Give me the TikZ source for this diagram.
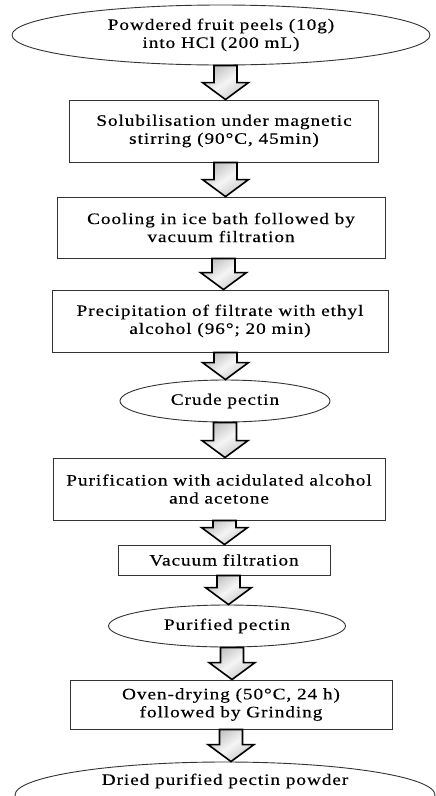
\documentclass[tikz,border=0pt]{standalone}
\usepackage{fontspec}
\setmainfont{Liberation Serif}[FakeStretch=1.2,LetterSpace=6,FakeBold=0.4]
\usetikzlibrary{shapes.geometric,calc}
\newcommand{\flowarrow}[2]{%
  \path[blockarrow] let \p1=(#1.south), \p2=(#2.north), \n1={0.5*\x1+0.5*\x2+3} in
    ({\n1-11.5pt},{\y1}) -- ({\n1+11.5pt},{\y1}) -- ({\n1+11.5pt},{\y2+17pt})
    -- ({\n1+23pt},{\y2+17pt}) -- ({\n1},{\y2}) -- ({\n1-23pt},{\y2+17pt})
    -- ({\n1-11.5pt},{\y2+17pt}) -- cycle;}
\begin{document}
\begin{tikzpicture}[x=1pt,y=-1pt,
    every node/.style={font=\fontsize{16}{18}\selectfont,align=center,inner sep=0pt},
    stepbox/.style={draw=black!80,line width=0.9pt,rectangle},
    stepoval/.style={draw=black!80,line width=0.9pt,ellipse},
    blockarrow/.style={draw=black,line width=1.6pt,line join=miter,
      left color=gray!50,right color=gray!45,middle color=gray!8,shading angle=35}]
    \useasboundingbox (0,0) rectangle (436,796);
    \clip (0,0) rectangle (436,796);
    %% Start
    \node[stepoval,minimum width=418,minimum height=60] (peels) at (221,35) {Powdered fruit peels (10g)\\into HCl (200 mL)};
    %% Extraction
    \node[stepbox,minimum width=309,minimum height=62] (solub) at (224,131) {Solubilisation under magnetic\\stirring (90°C, 45min)};
    \node[stepbox,minimum width=328,minimum height=61] (cool) at (221,227.5) {Cooling in ice bath followed by\\vacuum filtration};
    \node[stepbox,minimum width=336,minimum height=62] (precip) at (220,321) {Precipitation of filtrate with ethyl\\alcohol (96°; 20 min)};
    \node[stepoval,minimum width=210,minimum height=42] (crude) at (225,401) {Crude pectin};
    %% Purification
    \node[stepbox,minimum width=332,minimum height=62] (purif) at (219,489) {Purification with acidulated alcohol\\and acetone};
    \node[stepbox,minimum width=212,minimum height=30] (vacuum) at (224,560) {Vacuum filtration};
    \node[stepoval,minimum width=237,minimum height=42] (pure) at (227,626) {Purified pectin};
    \node[stepbox,minimum width=322,minimum height=49] (oven) at (231,704.5) {Oven-drying (50°C, 24 h)\\followed by Grinding};
    %% End
    \node[stepoval,minimum width=420,minimum height=66] (powder) at (225,795) {};
    \node (powdertext) at (225,781) {Dried purified pectin powder};
    %% Arrows
    \flowarrow{peels}{solub}
    \flowarrow{solub}{cool}
    \flowarrow{cool}{precip}
    \flowarrow{precip}{crude}
    \flowarrow{crude}{purif}
    \flowarrow{purif}{vacuum}
    \flowarrow{vacuum}{pure}
    \flowarrow{pure}{oven}
    \flowarrow{oven}{powder}
\end{tikzpicture}
\end{document}
